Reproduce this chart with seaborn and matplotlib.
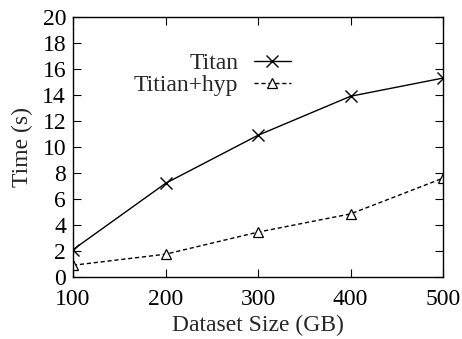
import matplotlib
matplotlib.use("Agg")
import matplotlib.pyplot as plt
import pandas as pd
import seaborn as sns

# --- Data ---
dataset_size = [100, 200, 300, 400, 500]
titan_time = [2.1, 7.2, 10.9, 13.9, 15.3]
titian_hyp_time = [0.9, 1.75, 3.45, 4.85, 7.6]
x_ticks = [100, 200, 300, 400, 500]
y_ticks = list(range(0, 21, 2))

sns.set_style("ticks")
plt.rcParams['font.family'] = ['Liberation Serif', 'DejaVu Serif']

df = pd.DataFrame({
    'size': dataset_size * 2,
    'time': titan_time + titian_hyp_time,
    'series': ['Titan'] * 5 + ['Titian+hyp'] * 5,
})

FS = 17

fig = plt.figure(figsize=(4.62, 3.39), dpi=100)
ax = fig.add_subplot(111)
fig.subplots_adjust(left=0.158, right=0.959, top=0.95, bottom=0.183)

sns.lineplot(data=df[df.series == 'Titan'], x='size', y='time', ax=ax,
             color='black', linewidth=1.0, marker='x', markersize=9,
             markeredgecolor='black', markeredgewidth=1.0, label='Titan')
sns.lineplot(data=df[df.series == 'Titian+hyp'], x='size', y='time', ax=ax,
             color='black', linewidth=1.0, linestyle=(0, (3, 2)), marker='^',
             markersize=7, markerfacecolor='white', markeredgecolor='black',
             markeredgewidth=0.9, label='Titian+hyp')

ax.set_xlim(100, 500)
ax.set_ylim(0, 20)
ax.set_xticks(x_ticks)
ax.set_yticks(y_ticks)
ax.set_xlabel('Dataset Size (GB)', fontsize=FS, labelpad=3)
ax.set_ylabel('Time (s)', fontsize=FS, labelpad=7)
ax.tick_params(direction='in', top=True, right=True, length=6, width=0.8,
               labelsize=FS, colors='black')
ax.tick_params(axis='x', pad=9)
ax.tick_params(axis='y', pad=5)
for s in ax.spines.values():
    s.set_linewidth(1.0)
    s.set_color('black')

ax.legend(loc='upper right', bbox_to_anchor=(0.59, 0.862), frameon=False,
          markerfirst=False, fontsize=FS, handlelength=1.6, handletextpad=0.65,
          labelspacing=0.0, borderaxespad=0, borderpad=0)
# right-align legend text like gnuplot
leg = ax.get_legend()
for t in leg.get_texts():
    t.set_ha('right')
leg._legend_box.align = 'right'

fig.savefig('out.png', dpi=100)
